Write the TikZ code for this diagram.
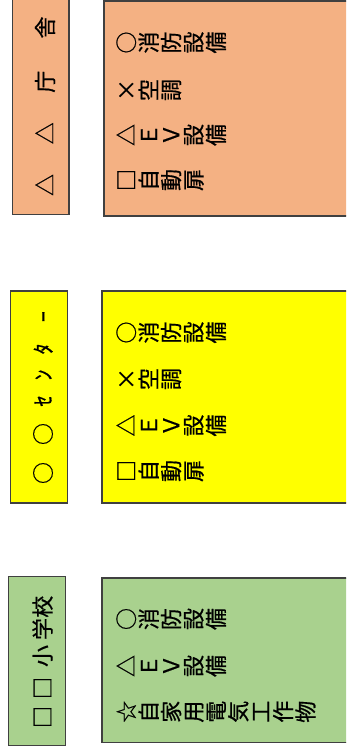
\documentclass[tikz,border=0pt]{standalone}
\usepackage{fontspec}
\newfontfamily\jp[FakeBold=0.6]{Noto Sans CJK JP}
\definecolor{orangebox}{HTML}{F4B183}
\definecolor{greenbox}{HTML}{A9D18E}
\definecolor{yellowbox}{HTML}{FFFF00}
\definecolor{edge}{HTML}{404040}
\newcommand\vtextline[4]{%
  \foreach \c [count=\i] in {#3} {
    \node[ch] (#4-\i) at ({#1+11.2+22.4*(\i-1)}, #2) {\c};
  }%
}
\begin{document}
\begin{tikzpicture}[x=1pt,y=-1pt,
  box/.style={draw=edge, line width=1.1pt},
  ch/.style={rotate=90, inner sep=0pt, font=\jp\fontsize{22}{22}\selectfont,
    text height=19.4pt, text depth=2.6pt}]
\useasboundingbox (0,0) rectangle (346,751);
\clip (0,0) rectangle (346,751);
% boxes
\draw[box, fill=orangebox] (12.5,-10) rectangle (69,214.3);
\draw[box, fill=orangebox] (104,1) rectangle (360,216);
\draw[box, fill=yellowbox] (10.5,291) rectangle (67.5,503);
\draw[box, fill=yellowbox] (102,291) rectangle (360,503);
\draw[box, fill=greenbox] (8.5,576.5) rectangle (65.5,745.5);
\draw[box, fill=greenbox] (102,578) rectangle (360,742.5);
% header: 庁舎
\node[ch] (h1a) at (45,27.5) {舎};
\node[ch] (h1b) at (45,81.7) {庁};
\node[ch] (h1c) at (45,133.3) {△};
\node[ch] (h1d) at (45,185) {△};
% header: センター
\node[ch] (h2a) at (43,316.7) {ｰ};
\node[ch] (h2b) at (43,349) {ﾀ};
\node[ch] (h2c) at (43,375) {ﾝ};
\node[ch] (h2d) at (43,401) {ｾ};
\node[ch] (h2e) at (43,434) {○};
\node[ch] (h2f) at (43,473) {○};
% header: 小学校
\node[ch] (h3a) at (42.5,606.7) {校};
\node[ch] (h3b) at (42.5,629) {学};
\node[ch] (h3c) at (42.5,656) {小};
\node[ch] (h3d) at (42.5,688) {□};
\node[ch] (h3e) at (42.5,717) {□};
% contents top
\vtextline{115}{42.5}{○,消,防,設,備}{t1}
\vtextline{115}{90}{×,空,調}{t2}
\vtextline{115}{135}{△,Ｅ,Ｖ,設,備}{t3}
\vtextline{115}{180}{□,自,動,扉}{t4}
% contents middle
\vtextline{115}{332.5}{○,消,防,設,備}{m1}
\vtextline{115}{379}{×,空,調}{m2}
\vtextline{115}{425.5}{△,Ｅ,Ｖ,設,備}{m3}
\vtextline{115}{471}{□,自,動,扉}{m4}
% contents bottom
\vtextline{115}{619}{○,消,防,設,備}{b1}
\vtextline{115}{666}{△,Ｅ,Ｖ,設,備}{b2}
\vtextline{115}{711.7}{☆,自,家,用,電,気,工,作,物}{b3}
\end{tikzpicture}
\end{document}
